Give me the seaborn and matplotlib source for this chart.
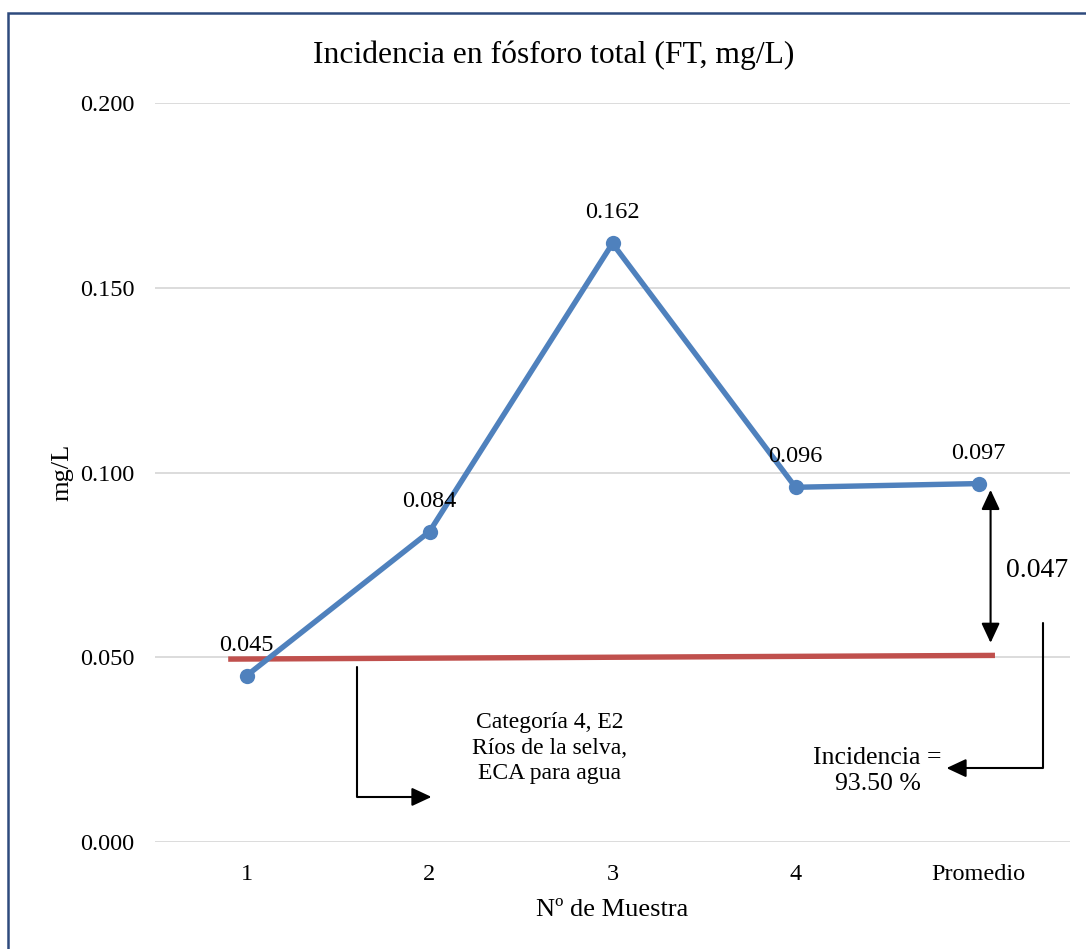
import matplotlib
matplotlib.use("Agg")
import matplotlib.pyplot as plt
from matplotlib.patches import Rectangle
import numpy as np
import pandas as pd
import seaborn as sns

# Total phosphorus per sample (mg/L)
muestras = ["1", "2", "3", "4", "Promedio"]
fosforo_total = [0.045, 0.084, 0.162, 0.096, 0.097]

# ECA limit line (Categoría 4, E2 – Ríos de la selva), drawn across the samples
eca_x = [-0.10, 4.09]
eca_y = [0.0495, 0.0505]

y_ticks = [0.000, 0.050, 0.100, 0.150, 0.200]

diferencia = "0.047"
incidencia = "Incidencia =\n93.50 %"
eca_texto = "Categoría 4, E2\nRíos de la selva,\nECA para agua"

sns.set_theme(style="white")
plt.rcParams["font.family"] = ["Liberation Serif", "DejaVu Serif"]
plt.rcParams["text.color"] = "black"
plt.rcParams["axes.labelcolor"] = "black"

BLUE = "#4F81BD"
RED = "#C0504D"
GRID = "#D9D9D9"

fig = plt.figure(figsize=(10.86, 9.49), dpi=100)
fig.patch.set_facecolor("white")
ax = fig.add_axes([155 / 1086, 1 - 842 / 949, 915 / 1086, 739 / 949])

df = pd.DataFrame({"pos": np.arange(len(muestras)), "valor": fosforo_total})
df_eca = pd.DataFrame({"pos": eca_x, "valor": eca_y})

sns.lineplot(data=df_eca, x="pos", y="valor", ax=ax, color=RED, linewidth=3.9,
             solid_capstyle="butt", zorder=3)
sns.lineplot(data=df, x="pos", y="valor", ax=ax, color=BLUE, linewidth=3.9,
             marker="o", markersize=11, markeredgewidth=0, zorder=4)

# Value labels above each point
for x, v in zip(df["pos"], df["valor"]):
    ax.annotate(f"{v:.3f}", (x, v), xytext=(0, 22), textcoords="offset points",
                ha="center", va="center", fontsize=17.5, color="black", zorder=5)

ax.set_xlim(-0.5, 4.5)
ax.set_ylim(0, 0.2)
ax.set_xticks(df["pos"])
ax.set_xticklabels(muestras)
ax.set_yticks(y_ticks)
ax.set_yticklabels([f"{t:.3f}" for t in y_ticks])
ax.tick_params(axis="both", length=0, labelsize=17.5, colors="black")
ax.tick_params(axis="y", pad=15)
ax.tick_params(axis="x", pad=16)
ax.grid(axis="y", color=GRID, linewidth=1.3)
ax.grid(axis="x", visible=False)
for s in ax.spines.values():
    s.set_visible(False)

ax.set_xlabel("Nº de Muestra", fontsize=19, color="black")
ax.set_ylabel("mg/L", fontsize=19, color="black")
ax.xaxis.set_label_coords(0.5, -0.092)
ax.xaxis.label.set_va("center")
ax.yaxis.set_label_coords(-0.1016, 0.5)
ax.yaxis.label.set_va("center")

fig.text(554 / 1086, 1 - 55 / 949, "Incidencia en fósforo total (FT, mg/L)",
         ha="center", va="center", fontsize=22.8, color="black")

arrow_kw = dict(color="black", lw=1.5, shrinkA=0, shrinkB=0, mutation_scale=20)

# Gap between the average and the ECA limit
ax.annotate("", xy=(4.066, 0.0539), xytext=(4.066, 0.0953),
            arrowprops=dict(arrowstyle="<|-|>,head_length=0.6,head_width=0.28", **arrow_kw),
            zorder=6)
ax.text(4.322, 0.0736, diferencia, ha="center", va="center", fontsize=20, color="black")

# Elbow pointing to the incidence text
ax.annotate("", xy=(3.825, 0.0200), xytext=(4.355, 0.0593),
            arrowprops=dict(arrowstyle="-|>,head_length=0.6,head_width=0.28",
                            connectionstyle="angle,angleA=90,angleB=0,rad=0", **arrow_kw),
            zorder=6)
ax.text(3.448, 0.0192, incidencia, ha="center", va="center", fontsize=18.5,
        linespacing=1.2, multialignment="center", color="black")

# Elbow from the ECA line to its description
ax.annotate("", xy=(1.011, 0.0122), xytext=(0.605, 0.0474),
            arrowprops=dict(arrowstyle="-|>,head_length=0.6,head_width=0.28",
                            connectionstyle="angle,angleA=90,angleB=0,rad=0", **arrow_kw),
            zorder=6)
ax.text(1.656, 0.0254, eca_texto, ha="center", va="center", fontsize=17,
        linespacing=1.27, multialignment="center", color="black")

# Frame around the figure
fig.patches.append(Rectangle((8 / 1086, -0.05), 1.2, 1 - 13 / 949 + 0.05,
                             transform=fig.transFigure, fill=False,
                             edgecolor="#2E4A7D", linewidth=1.8, zorder=10))

fig.savefig("out.png", dpi=100, facecolor="white")
